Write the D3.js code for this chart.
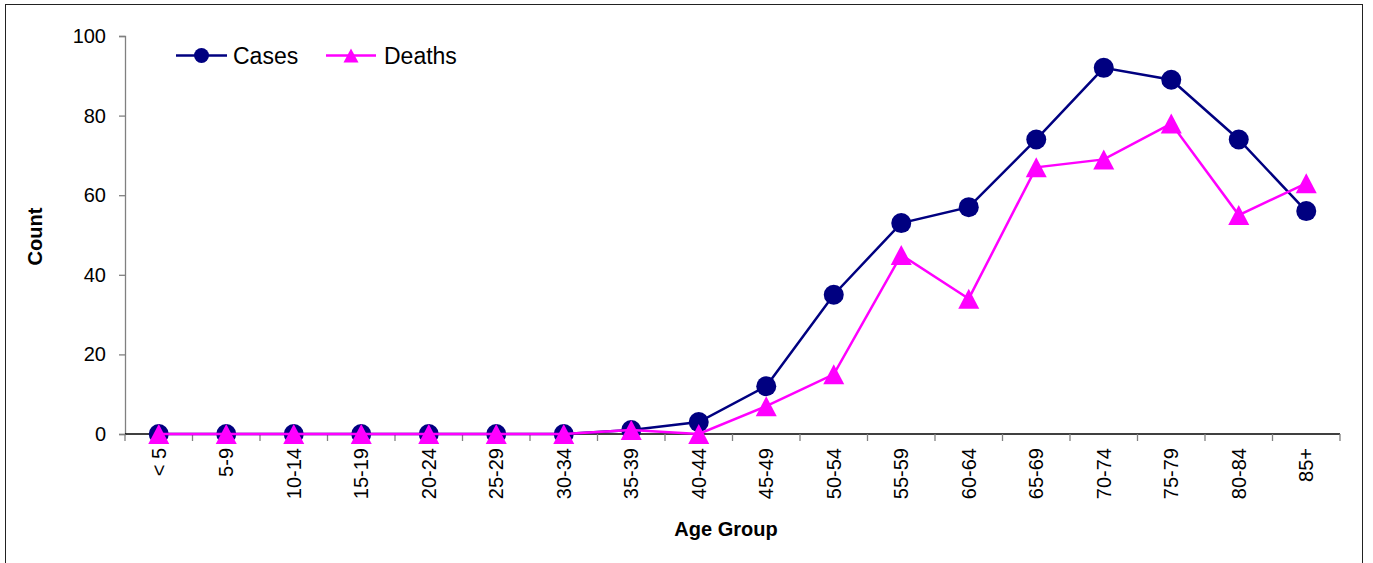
<!DOCTYPE html>
<html>
<head>
<meta charset="utf-8">
<script src="https://cdn.jsdelivr.net/npm/d3@7"></script>
<style>
  html, body { margin: 0; padding: 0; background: #fff; }
  svg { display: block; font-family: Arial, "Liberation Sans", sans-serif; }
</style>
</head>
<body>
<svg id="chart" width="1373" height="563"></svg>
<script>
// Age groups and counts per group
const ageGroups = ["< 5", "5-9", "10-14", "15-19", "20-24", "25-29", "30-34", "35-39", "40-44",
  "45-49", "50-54", "55-59", "60-64", "65-69", "70-74", "75-79", "80-84", "85+"];
const cases  = [0, 0, 0, 0, 0, 0, 0, 1, 3, 12, 35, 53, 57, 74, 92, 89, 74, 56];
const deaths = [0, 0, 0, 0, 0, 0, 0, 1, 0, 7, 15, 45, 34, 67, 69, 78, 55, 63];
const yTicks = [0, 20, 40, 60, 80, 100];

const svg = d3.select("#chart");
const plotLeft = 125, plotRight = 1340, plotTop = 36, plotBottom = 434;

// Outer frame
svg.append("rect")
  .attr("x", 5.5).attr("y", 4.5)
  .attr("width", 1357).attr("height", 600)
  .attr("fill", "none").attr("stroke", "#222").attr("stroke-width", 1);

const x = d3.scaleBand().domain(ageGroups).range([plotLeft, plotRight]).padding(0);
const y = d3.scaleLinear().domain([0, 100]).range([plotBottom, plotTop]);
const cx = d => x(d) + x.bandwidth() / 2;

// Y axis
const yAxis = svg.append("g")
  .attr("transform", `translate(${plotLeft},0)`)
  .call(d3.axisLeft(y).tickValues(yTicks).tickSize(6).tickPadding(13));
yAxis.select(".domain").attr("stroke", "#808080").attr("stroke-width", 1.3);
yAxis.selectAll(".tick line").attr("stroke", "#808080").attr("stroke-width", 1.3);
yAxis.selectAll(".tick text")
  .attr("font-size", 20).attr("fill", "#000")
  .attr("font-family", "Arial, 'Liberation Sans', sans-serif");

// X axis with ticks between categories
const xAxisG = svg.append("g").attr("transform", `translate(0,${plotBottom})`);
xAxisG.append("line")
  .attr("x1", plotLeft).attr("x2", plotRight).attr("y1", 0).attr("y2", 0)
  .attr("stroke", "#000").attr("stroke-width", 1.3);
const tickPos = ageGroups.map(d => x(d)).concat([plotRight]);
xAxisG.selectAll("line.tk").data(tickPos).enter().append("line")
  .attr("class", "tk")
  .attr("x1", d => d).attr("x2", d => d).attr("y1", 0).attr("y2", 7)
  .attr("stroke", "#808080").attr("stroke-width", 1.3);
xAxisG.selectAll("text.lbl").data(ageGroups).enter().append("text")
  .attr("class", "lbl")
  .attr("transform", d => `translate(${cx(d) + 7.2},14) rotate(-90)`)
  .attr("text-anchor", "end")
  .attr("font-size", 20)
  .text(d => d);

// Axis titles
svg.append("text")
  .attr("transform", "translate(41.5,236.5) rotate(-90)")
  .attr("text-anchor", "middle")
  .attr("font-size", 20).attr("font-weight", "bold")
  .text("Count");
svg.append("text")
  .attr("x", 726).attr("y", 536)
  .attr("text-anchor", "middle")
  .attr("font-size", 20).attr("font-weight", "bold")
  .text("Age Group");

const line = d3.line().x((d, i) => cx(ageGroups[i])).y(d => y(d));
// Triangle marker centred on its bounding box
const triPath = (w, h) => `M0,${-h / 2}L${w / 2},${h / 2}L${-w / 2},${h / 2}Z`;

// Cases series
svg.append("path").datum(cases)
  .attr("d", line).attr("fill", "none")
  .attr("stroke", "#000080").attr("stroke-width", 2.5);
svg.selectAll("circle.case").data(cases).enter().append("circle")
  .attr("class", "case")
  .attr("cx", (d, i) => cx(ageGroups[i])).attr("cy", d => y(d))
  .attr("r", 10).attr("fill", "#000080");

// Deaths series
svg.append("path").datum(deaths)
  .attr("d", line).attr("fill", "none")
  .attr("stroke", "#FF00FF").attr("stroke-width", 2.5);
svg.selectAll("path.death").data(deaths).enter().append("path")
  .attr("class", "death")
  .attr("d", triPath(21, 20))
  .attr("transform", (d, i) => `translate(${cx(ageGroups[i])},${y(d)})`)
  .attr("fill", "#FF00FF");

// Legend
const legend = svg.append("g");
legend.append("line").attr("x1", 176).attr("x2", 227).attr("y1", 55.5).attr("y2", 55.5)
  .attr("stroke", "#000080").attr("stroke-width", 2.5);
legend.append("circle").attr("cx", 201.5).attr("cy", 55.5).attr("r", 7.5).attr("fill", "#000080");
legend.append("text").attr("x", 233).attr("y", 64).attr("font-size", 23).text("Cases");
legend.append("line").attr("x1", 326).attr("x2", 376).attr("y1", 55.5).attr("y2", 55.5)
  .attr("stroke", "#FF00FF").attr("stroke-width", 2.5);
legend.append("path").attr("d", triPath(15, 14)).attr("transform", "translate(351,55.5)").attr("fill", "#FF00FF");
legend.append("text").attr("x", 384).attr("y", 64).attr("font-size", 23).text("Deaths");
</script>
</body>
</html>
